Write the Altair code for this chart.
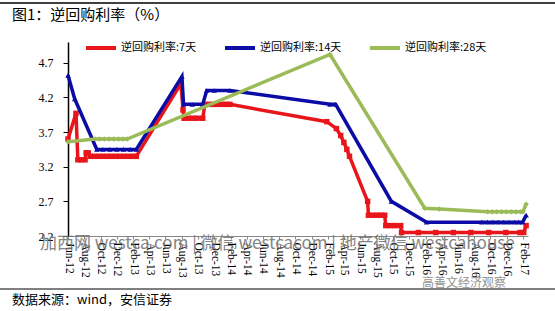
import altair as alt
import pandas as pd

CJK = "Noto Sans CJK SC"
SERIF = "Liberation Serif"

series_names = ["逆回购利率:7天", "逆回购利率:14天", "逆回购利率:28天"]
series_colors = ["#E8161B", "#0B0BA6", "#9BBB59"]
series_shapes = ["square", "triangle-up", "diamond"]

dates_7 = ["2012-06-01", "2012-07-01", "2012-07-08", "2012-07-20", "2012-08-04", "2012-08-08", "2012-08-16", "2012-08-24",
           "2012-09-08", "2012-09-24", "2012-10-10", "2012-10-26", "2012-11-10", "2012-11-26", "2012-12-12", "2012-12-28",
           "2013-01-14", "2013-01-30", "2013-02-12",
           "2013-07-29", "2013-08-06", "2013-08-10", "2013-08-26", "2013-09-12", "2013-09-28", "2013-10-19",
           "2013-10-27", "2013-11-12", "2013-11-28", "2013-12-14", "2013-12-30", "2014-01-15", "2014-01-29",
           "2015-01-27", "2015-03-04", "2015-03-20", "2015-04-01", "2015-04-12", "2015-04-22",
           "2015-06-29", "2015-07-02", "2015-07-18", "2015-08-03", "2015-08-18", "2015-09-01",
           "2015-09-05", "2015-09-22", "2015-10-10", "2015-10-31",
           "2015-11-03", "2016-01-05", "2016-03-10", "2016-05-15", "2016-07-20", "2016-09-25", "2016-11-28",
           "2017-01-20", "2017-02-03", "2017-02-12"]
rate_7 = [3.60, 3.97, 3.30, 3.30, 3.30, 3.40, 3.40, 3.35,
          3.35, 3.35, 3.35, 3.35, 3.35, 3.35, 3.35, 3.35,
          3.35, 3.35, 3.35,
          4.40, 4.02, 3.90, 3.90, 3.90, 3.90, 3.90,
          4.10, 4.10, 4.10, 4.10, 4.10, 4.10, 4.10,
          3.85, 3.75, 3.65, 3.55, 3.45, 3.35,
          2.70, 2.50, 2.50, 2.50, 2.50, 2.50,
          2.35, 2.35, 2.35, 2.35,
          2.25, 2.25, 2.25, 2.25, 2.25, 2.25, 2.25,
          2.25, 2.25, 2.35]

dates_14 = ["2012-06-01", "2012-06-26", "2012-09-17", "2012-10-10", "2012-11-05", "2012-12-01", "2012-12-26",
            "2013-01-20", "2013-02-12",
            "2013-08-02", "2013-08-08", "2013-09-10", "2013-10-19", "2013-11-03", "2013-12-01", "2014-01-29",
            "2015-02-08", "2015-03-01", "2015-09-26", "2016-02-05",
            "2016-08-30", "2016-09-20", "2016-10-10", "2016-10-30", "2016-11-20", "2016-12-10", "2016-12-30",
            "2017-01-15", "2017-01-30", "2017-02-12"]
rate_14 = [4.52, 4.18, 3.45, 3.45, 3.45, 3.45, 3.45,
           3.45, 3.45,
           4.50, 4.10, 4.10, 4.10, 4.30, 4.30, 4.30,
           4.10, 4.10, 2.70, 2.40,
           2.40, 2.40, 2.40, 2.40, 2.40, 2.40, 2.40,
           2.40, 2.40, 2.50]

dates_28 = ["2012-06-01", "2012-09-11", "2012-09-27", "2012-10-15", "2012-11-02", "2012-11-20", "2012-12-08",
            "2012-12-24", "2013-01-09",
            "2015-02-08", "2016-01-29", "2016-03-24",
            "2016-09-21", "2016-10-08", "2016-10-25", "2016-11-12", "2016-11-30", "2016-12-18", "2017-01-05",
            "2017-01-22", "2017-01-31", "2017-02-12"]
rate_28 = [3.56, 3.60, 3.60, 3.60, 3.60, 3.60, 3.60,
           3.60, 3.60,
           4.82, 2.60, 2.59,
           2.55, 2.55, 2.55, 2.55, 2.55, 2.55, 2.55,
           2.55, 2.55, 2.66]

tick_labels = ["Jun-12", "Aug-12", "Oct-12", "Dec-12", "Feb-13", "Apr-13", "Jun-13", "Aug-13", "Oct-13", "Dec-13",
               "Feb-14", "Apr-14", "Jun-14", "Aug-14", "Oct-14", "Dec-14", "Feb-15", "Apr-15", "Jun-15", "Aug-15",
               "Oct-15", "Dec-15", "Feb-16", "Apr-16", "Jun-16", "Aug-16", "Oct-16", "Dec-16", "Feb-17"]
y_ticks = [2.2, 2.7, 3.2, 3.7, 4.2, 4.7]

rows = []
for name, ds, vs in zip(series_names, [dates_7, dates_14, dates_28], [rate_7, rate_14, rate_28]):
    for d, v in zip(ds, vs):
        rows.append({"series": name, "date": d, "rate": v})
df = pd.DataFrame(rows)


def dt(ts):
    return alt.DateTime(year=ts.year, month=ts.month, date=ts.day, utc=True)


tick_values = [dt(pd.to_datetime(t, format="%b-%y")) for t in tick_labels]

x_enc = alt.X(
    "date:T",
    scale=alt.Scale(type="utc", domain=[dt(pd.Timestamp("2012-06-01")), dt(pd.Timestamp("2017-02-19"))], nice=False),
    axis=alt.Axis(values=tick_values, format="%b-%y", labelAngle=90, labelFont=SERIF, labelFontSize=11.5,
                  labelColor="black", labelPadding=3, tickSize=3, tickColor="#888", domainColor="#888",
                  labelOverlap=False, grid=False, title=None),
)
y_enc = alt.Y(
    "rate:Q",
    scale=alt.Scale(domain=[2.2, 5.0], nice=False, zero=False),
    axis=alt.Axis(values=y_ticks, format=".1f", labelFont=SERIF, labelFontSize=12, labelColor="black",
                  tickSize=5, tickColor="black", domainColor="black", domainWidth=1.5, labelPadding=10,
                  grid=False, title=None),
)
color_scale = alt.Scale(domain=series_names, range=series_colors)

layers = []
for name, col, shp in zip(series_names, series_colors, series_shapes):
    line = alt.Chart(df).transform_filter(alt.datum.series == name).mark_line(strokeWidth=3.5).encode(
        x=x_enc, y=y_enc,
        color=alt.Color("series:N", scale=color_scale,
                        legend=alt.Legend(title=None, orient="none", legendX=16, legendY=-11,
                                          direction="horizontal", symbolType="stroke", symbolSize=900,
                                          symbolStrokeWidth=4, labelFont=CJK, labelFontSize=11,
                                          labelColor="black", columnPadding=20, labelOffset=3)),
    )
    pts = alt.Chart(df).transform_filter(alt.datum.series == name).mark_point(
        filled=True, opacity=1, size=30, color=col, shape=shp
    ).encode(x=x_enc, y=y_enc)
    layers += [line, pts]

dummy = pd.DataFrame({"t": ["图1：逆回购利率（%）", "数据来源：wind，安信证券",
                            "加西网 westca.com | 微信 westcacom | 地产微信 westcahouse", "高善文经济观察"]})


def text_layer(i, x, y, size, color="black", opacity=1.0):
    return alt.Chart(dummy).transform_filter(alt.datum.t == dummy["t"][i]).mark_text(
        align="left", baseline="middle", font=CJK, fontSize=size, color=color, opacity=opacity
    ).encode(x=alt.value(x), y=alt.value(y), text="t:N")


top_rule = alt.Chart(dummy.head(1)).mark_rule(color="black", strokeWidth=1.5).encode(
    x=alt.value(-68), x2=alt.value(487), y=alt.value(-39))
bottom_rule = alt.Chart(dummy.head(1)).mark_rule(color="black", strokeWidth=1).encode(
    x=alt.value(-68), x2=alt.value(487), y=alt.value(247))

layers += [
    top_rule, bottom_rule,
    text_layer(0, -56, -27, 15),
    text_layer(1, -56, 258, 13),
    text_layer(2, -28, 202, 17, color="#707070", opacity=0.85),
    text_layer(3, 354, 241, 12, color="#888888", opacity=0.9),
]

chart = alt.layer(*layers).properties(
    width=460, height=194,
    autosize=alt.AutoSizeParams(type="none"),
    padding={"left": 68, "top": 42, "right": 27, "bottom": 75},
    background="white",
).configure_view(stroke=None)

chart.save("out.html", embed_options={"renderer": "svg", "actions": False})
